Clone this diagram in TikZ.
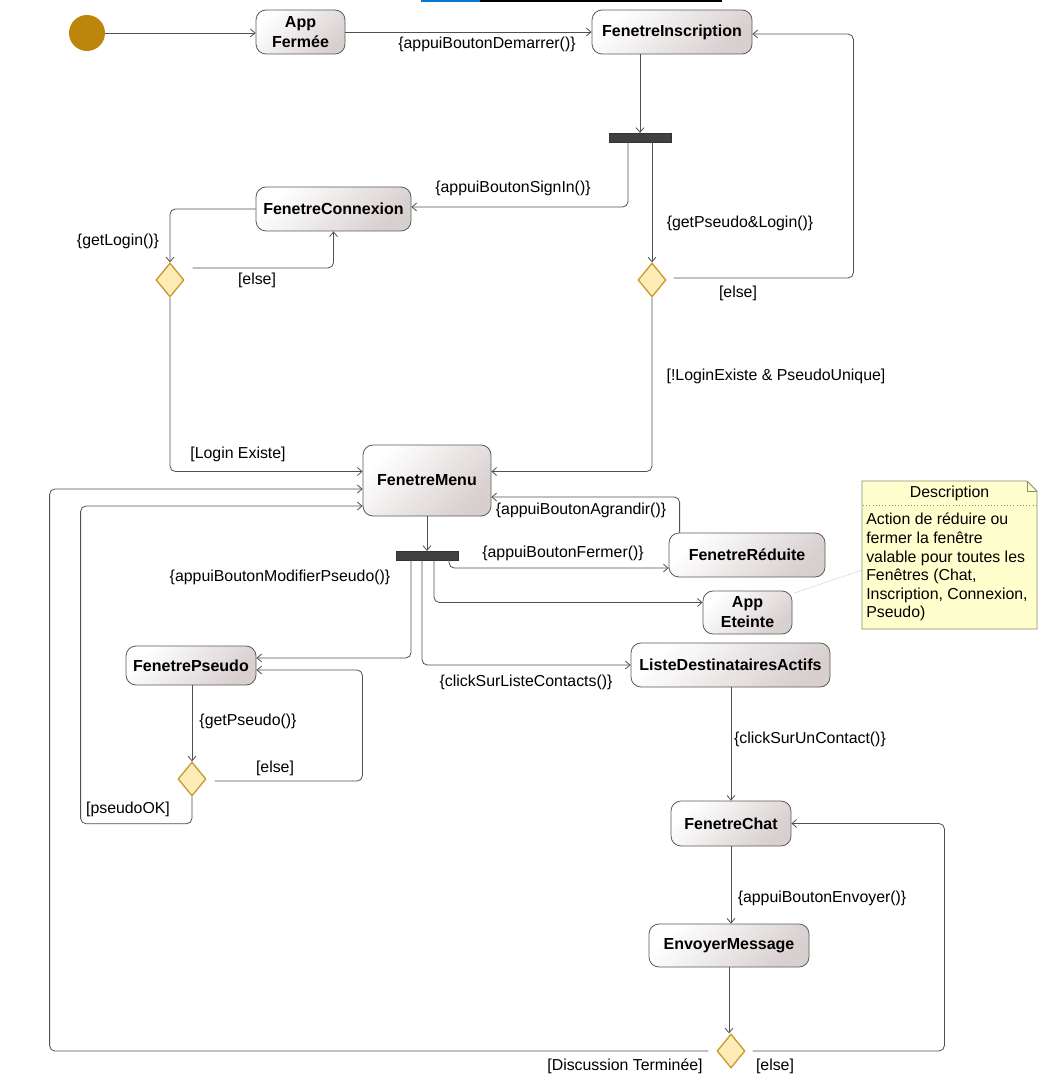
\documentclass[tikz,border=0pt]{standalone}
\usepackage{fontspec}
\setmainfont{Liberation Sans}
\usetikzlibrary{shapes.geometric,arrows.meta,calc}

\definecolor{stategrey}{RGB}{216,207,207}
\definecolor{stateline}{RGB}{90,90,90}
\definecolor{flowline}{RGB}{80,80,80}
\definecolor{choicefill}{RGB}{254,236,182}
\definecolor{choiceline}{RGB}{200,155,45}
\definecolor{startgold}{RGB}{187,134,11}
\definecolor{barfill}{RGB}{64,64,64}
\definecolor{notefill}{RGB}{255,255,206}
\definecolor{noteline}{RGB}{140,140,110}
\definecolor{linkblue}{RGB}{0,120,215}

\begin{document}
\begin{tikzpicture}[x=0.75pt,y=0.75pt,yscale=-1,xscale=1,
  state/.style={draw=stateline,line width=0.6pt,rounded corners=7.5pt,inner sep=0pt,align=center,
    font=\fontsize{12}{15}\selectfont\bfseries,top color=white,bottom color=stategrey,shading angle=45},
  choice/.style={diamond,draw=choiceline,fill=choicefill,line width=1pt,inner sep=0pt,
    minimum width=21pt,minimum height=25.5pt},
  forkbar/.style={fill=barfill,draw=black!80,inner sep=0pt,minimum width=46.5pt,minimum height=6.5pt},
  startdot/.style={circle,fill=startgold,inner sep=0pt,minimum size=27pt},
  lbl/.style={font=\fontsize{11.9}{14}\selectfont,inner sep=1pt},
  flow/.style={draw=flowline,line width=0.6pt,rounded corners=4pt,-{Straight Barb[length=3.5pt,width=6pt]}}]
\useasboundingbox (0,0) rectangle (1058,1080);

%Shape: Rectangle (cut link at top)
\fill[linkblue] (421,0) rectangle (480,2);
\fill[black] (480,0) rectangle (722,2);

%Shape: Circle
\node[startdot] (start) at (87,33) {};

%Shape: States
\node[state,minimum width=66.75pt,minimum height=33pt] (appFermee) at (300.5,32) {App\\Fermée};
\node[state,minimum width=120pt,minimum height=33pt] (inscription) at (672,32) {FenetreInscription};
\node[state,minimum width=116.25pt,minimum height=33pt] (connexion) at (333.5,209) {FenetreConnexion};
\node[state,minimum width=96pt,minimum height=53.25pt] (menu) at (427,480.5) {FenetreMenu};
\node[state,minimum width=117pt,minimum height=33pt] (reduite) at (747,555) {FenetreRéduite};
\node[state,minimum width=66.75pt,minimum height=32.25pt] (eteinte) at (747.5,612.5) {App\\Eteinte};
\node[state,minimum width=149.25pt,minimum height=33pt] (liste) at (730.5,665) {ListeDestinatairesActifs};
\node[state,minimum width=97.5pt,minimum height=29.25pt] (pseudo) at (191,665.5) {FenetrePseudo};
\node[state,minimum width=90pt,minimum height=33.75pt] (chat) at (731,823.5) {FenetreChat};
\node[state,minimum width=120pt,minimum height=32.25pt] (envoi) at (729,945.5) {EnvoyerMessage};

%Shape: Fork bars
\node[forkbar] (fork1) at (640,137.5) {};
\node[forkbar] (fork2) at (427,555.5) {};

%Shape: Diamonds
\node[choice] (choiceLogin) at (170,280) {};
\node[choice] (choiceInscr) at (652,280) {};
\node[choice] (choicePseudo) at (192,779) {};
\node[choice] (choiceFin) at (731,1051) {};

%Straight Lines
\draw[flow] (start) -- (start -| appFermee.west);
\draw[flow] (appFermee) -- (inscription);
\draw[flow] (inscription.south -| fork1.north) -- (fork1.north);
\draw[flow] ($(fork1.south)+(-12,0)$) |- ($(connexion.east)+(0,-2)$);
\draw[flow] (fork1.south -| choiceInscr.north) -- (choiceInscr.north);
\draw[flow] (connexion.west) -| (choiceLogin.north);
\draw[flow] ($(choiceLogin.east)+(8,-12)$) -| (connexion.south);
\draw[flow] (choiceLogin.south) |- ($(menu.west)+(0,-9)$);
\draw[flow] ($(choiceInscr.east)+(7,-2)$) -| ($(inscription.east)+(101,2)$) -- ($(inscription.east)+(0,2)$);
\draw[flow] (choiceInscr.south) |- ($(menu.east)+(0,-9)$);
\draw[flow] (menu.south) -- (fork2.north);
\draw[flow] ($(reduite.north west)+(11,0)$) |- ($(menu.east)+(0,16.5)$);
\draw[flow] ($(fork2.south)+(22,0)$) |- ($(reduite.west)+(0,13)$);
\draw[flow] ($(fork2.south)+(7,0)$) |- ($(eteinte.west)+(0,-10)$);
\draw[flow] ($(fork2.south)+(-5,0)$) |- (liste.west);
\draw[flow] ($(fork2.south)+(-16,0)$) |- ($(pseudo.east)+(0,-7.5)$);
\draw[flow] (pseudo.south -| choicePseudo.north) -- (choicePseudo.north);
\draw[flow] ($(choicePseudo.east)+(8,2)$) -| ($(pseudo.east)+(106,4.5)$) -- ($(pseudo.east)+(0,4.5)$);
\draw[flow] (choicePseudo.south) -- ++(0,27) -| ($(menu.west)+(-282,25.5)$) -- ($(menu.west)+(0,25.5)$);
\draw[flow] (liste.south -| chat.north) -- (chat.north);
\draw[flow] (chat.south) -- (chat.south |- envoi.north);
\draw[flow] (envoi.south) -- (envoi.south |- choiceFin.north);
\draw[flow] ($(choiceFin.east)+(7,0)$) -| ($(chat.east)+(153,0)$) -- (chat.east);
\draw[flow] ($(choiceFin.west)+(-8,0)$) -| ($(menu.west)+(-313,8.5)$) -- ($(menu.west)+(0,8.5)$);

% Text Node
\node[lbl] (lblDemarrer) at (487,44) {\{appuiBoutonDemarrer()\}};
\node[lbl] (lblSignIn) at (513,188) {\{appuiBoutonSignIn()\}};
\node[lbl] (lblPseudoLogin) at (740,223) {\{getPseudo\&Login()\}};
\node[lbl] (lblGetLogin) at (118,241) {\{getLogin()\}};
\node[lbl] (lblElseLogin) at (257,280) {[else]};
\node[lbl] (lblElseInscr) at (738,293) {[else]};
\node[lbl] (lblUnique) at (776,376) {[!LoginExiste \& PseudoUnique]};
\node[lbl] (lblExiste) at (238,454) {[Login Existe]};
\node[lbl] (lblAgrandir) at (581,510) {\{appuiBoutonAgrandir()\}};
\node[lbl] (lblFermer) at (563,553) {\{appuiBoutonFermer()\}};
\node[lbl] (lblModifier) at (280,577) {\{appuiBoutonModifierPseudo()\}};
\node[lbl] (lblContacts) at (526,682) {\{clickSurListeContacts()\}};
\node[lbl] (lblGetPseudo) at (248,721) {\{getPseudo()\}};
\node[lbl] (lblElsePseudo) at (275,768) {[else]};
\node[lbl] (lblPseudoOK) at (128,809) {[pseudoOK]};
\node[lbl] (lblUnContact) at (810,739) {\{clickSurUnContact()\}};
\node[lbl] (lblEnvoyer) at (822,898) {\{appuiBoutonEnvoyer()\}};
\node[lbl] (lblTerminee) at (625,1066) {[Discussion Terminée]};
\node[lbl] (lblElseFin) at (775,1066) {[else]};

%Shape: Note
\draw[draw=noteline,fill=notefill,line width=0.6pt] (862,481) -- (1027,481) -- (1037,491) -- (1037,629) -- (862,629) -- cycle;
\draw[noteline,line width=0.6pt] (1027,481) -- (1027,491) -- (1037,491);
\draw[noteline,dotted] (863,505) -- (1036,505);
\coordinate (noteLink) at (862,570);
\draw[noteline,densely dotted] ($(eteinte.north east)+(3,2)$) -- (noteLink);
\node[lbl] (noteTitle) at (949.5,493) {Description};
\node[lbl,anchor=north west,align=left,inner sep=0pt,font=\fontsize{11.9}{13.9}\selectfont] (noteText) at (866,513) {Action de réduire ou\\fermer la fenêtre\\valable pour toutes les\\Fenêtres (Chat,\\Inscription, Connexion,\\Pseudo)};

\end{tikzpicture}
\end{document}
